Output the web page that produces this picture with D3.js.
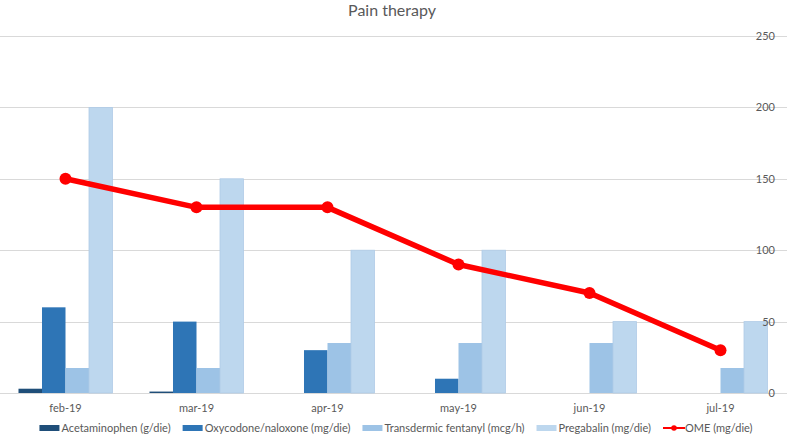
<!DOCTYPE html>
<html><head><meta charset="utf-8">
<script src="https://cdn.jsdelivr.net/npm/d3@7"></script>
<style>html,body{margin:0;padding:0;background:#fff;}svg{display:block;}</style>
</head><body>
<svg id="c" width="787" height="437"></svg>
<script>
const categories = ["feb-19","mar-19","apr-19","may-19","jun-19","jul-19"];
const seriesNames = ["Acetaminophen (g/die)","Oxycodone/naloxone (mg/die)","Transdermic fentanyl (mcg/h)","Pregabalin (mg/die)"];
const acetaminophen = [3, 1, 0, 0, 0, 0];
const oxycodone = [60, 50, 30, 10, 0, 0];
const fentanyl = [17.5, 17.5, 35, 35, 35, 17.5];
const pregabalin = [200, 150, 100, 100, 50, 50];
const omeName = "OME (mg/die)";
const ome = [150, 130, 130, 90, 70, 30];
const yTicks = [0, 50, 100, 150, 200, 250];
const title = "Pain therapy";

const colors = ["#1f4e79","#2e75b6","#9dc3e6","#bdd7ee"];
const seriesData = [acetaminophen, oxycodone, fentanyl, pregabalin];
const font = "Lato, 'Open Sans', sans-serif";
const txt = "#595959";

const svg = d3.select("#c");
const x = d3.scaleBand().domain(categories).range([0, 786]).paddingInner(0).paddingOuter(0);
const xi = d3.scaleBand().domain(seriesNames).range([0, x.bandwidth()]).paddingInner(0).paddingOuter(0.787);
const y = d3.scaleLinear().domain([0, 250]).range([393, 36]);

// gridlines
svg.append("g").selectAll("line").data(yTicks).join("line")
  .attr("x1", 0).attr("x2", 787)
  .attr("y1", d => Math.round(y(d)) + 0.5).attr("y2", d => Math.round(y(d)) + 0.5)
  .attr("stroke", "#d9d9d9").attr("stroke-width", 1);

// bars
const g = svg.append("g");
seriesData.forEach((vals, si) => {
  g.append("g").selectAll("rect").data(vals.map((v, i) => ({v, c: categories[i]}))).join("rect")
    .attr("x", d => x(d.c) + xi(seriesNames[si]))
    .attr("width", xi.bandwidth())
    .attr("y", d => y(d.v))
    .attr("height", d => y(0) - y(d.v))
    .attr("fill", colors[si])
    .attr("stroke", si === 3 ? "#b0cbe6" : "none")
    .attr("stroke-width", si === 3 ? 0.8 : 0);
});

// y axis labels (right side)
svg.append("g").selectAll("text").data(yTicks).join("text")
  .attr("x", 775).attr("y", d => y(d) + 4)
  .attr("text-anchor", "end").attr("font-family", font).attr("font-size", 11)
  .attr("fill", txt).text(d => d);

// x axis labels
svg.append("g").selectAll("text").data(categories).join("text")
  .attr("x", d => x(d) + x.bandwidth() / 2).attr("y", 412)
  .attr("text-anchor", "middle").attr("font-family", font).attr("font-size", 11)
  .attr("fill", txt).text(d => d);

// OME line
const line = d3.line().x((d, i) => x(categories[i]) + x.bandwidth() / 2).y(d => y(d));
svg.append("path").datum(ome).attr("d", line)
  .attr("fill", "none").attr("stroke", "#ff0000").attr("stroke-width", 5.5)
  .attr("stroke-linejoin", "round");
svg.append("g").selectAll("circle").data(ome).join("circle")
  .attr("cx", (d, i) => x(categories[i]) + x.bandwidth() / 2)
  .attr("cy", d => y(d)).attr("r", 6).attr("fill", "#ff0000");

// title
svg.append("text").attr("x", 392).attr("y", 16).attr("text-anchor", "middle")
  .attr("font-family", font).attr("font-size", 16).attr("fill", txt).text(title);

// legend
const legendItems = seriesNames.map((n, i) => ({name: n, color: colors[i], type: "bar"}))
  .concat([{name: omeName, color: "#ff0000", type: "line"}]);
const lg = svg.append("g");
const items = lg.selectAll("g").data(legendItems).join("g");
items.append("text").attr("x", 22).attr("y", 432)
  .attr("font-family", font).attr("font-size", 11).attr("fill", txt).text(d => d.name);
const widths = [];
items.each(function() { widths.push(22 + d3.select(this).select("text").node().getComputedTextLength()); });
const gap = 12;
const total = d3.sum(widths) + gap * (widths.length - 1);
let cx = 396 - total / 2;
items.attr("transform", (d, i) => { const t = `translate(${cx},0)`; cx += widths[i] + gap; return t; });
items.filter(d => d.type === "bar").append("rect")
  .attr("x", 0).attr("y", 425).attr("width", 20).attr("height", 6).attr("fill", d => d.color);
const li = items.filter(d => d.type === "line");
li.append("line").attr("x1", 0).attr("x2", 22).attr("y1", 428).attr("y2", 428)
  .attr("stroke", "#ff0000").attr("stroke-width", 2);
li.append("circle").attr("cx", 11).attr("cy", 428).attr("r", 2.8).attr("fill", "#ff0000");
</script>
</body></html>
